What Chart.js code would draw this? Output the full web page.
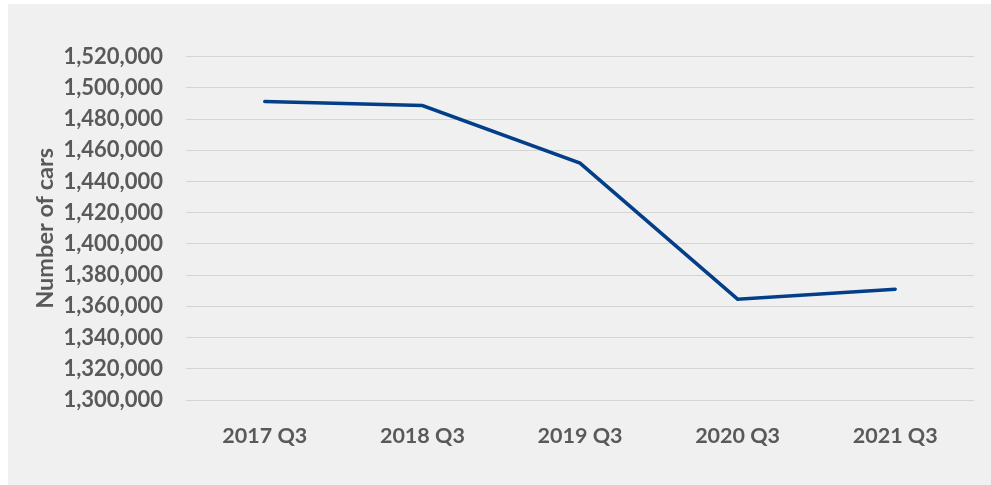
<!DOCTYPE html>
<html>
<head>
<meta charset="utf-8">
<script src="https://cdn.jsdelivr.net/npm/chart.js@4"></script>
<style>
  html, body { margin: 0; padding: 0; background: #ffffff; }
  #panel { position: absolute; left: 8px; top: 4px; width: 983px; height: 481px; background: #f0f0f0; }
  #c { display: block; }
</style>
</head>
<body>
<div id="panel"><canvas id="c" width="983" height="481"></canvas></div>
<script>
const categories = ['2017 Q3', '2018 Q3', '2019 Q3', '2020 Q3', '2021 Q3'];
const carValues = [1491300, 1488700, 1451800, 1364600, 1371000];
const yMin = 1300000;
const yMax = 1520000;
const yStep = 20000;
const yTitle = 'Number of cars';

const textColor = '#595959';
const fontFamily = 'Lato, "Open Sans", sans-serif';

new Chart(document.getElementById('c'), {
  type: 'line',
  data: {
    labels: categories,
    datasets: [{
      data: carValues,
      borderColor: '#023f88',
      borderWidth: 3.5,
      pointRadius: 0,
      pointHoverRadius: 0,
      borderCapStyle: 'round',
      borderJoinStyle: 'miter',
      tension: 0,
      fill: false
    }]
  },
  options: {
    responsive: false,
    animation: false,
    events: [],
    layout: { padding: { left: 0, right: 17, top: 52.7, bottom: 0 } },
    plugins: { legend: { display: false }, tooltip: { enabled: false } },
    scales: {
      x: {
        offset: true,
        grid: { display: false, drawTicks: false },
        border: { display: false },
        ticks: { color: textColor, font: { family: fontFamily, size: 21.5, weight: 'bold' }, padding: 23, maxRotation: 0 },
        afterFit: (s) => { s.height = 85; }
      },
      y: {
        min: yMin,
        max: yMax,
        grid: { color: '#d4d4d4', lineWidth: 1, drawTicks: false },
        border: { display: false },
        ticks: {
          stepSize: yStep,
          color: textColor,
          font: { family: fontFamily, size: 22, weight: 'bold' },
          padding: 23,
          callback: (v) => Number(v).toLocaleString('en-US')
        },
        title: {
          display: true,
          text: yTitle,
          color: textColor,
          font: { family: fontFamily, size: 23.5, weight: 'bold' },
          padding: { top: 23, bottom: 0 }
        },
        afterFit: (s) => { s.width = 178; }
      }
    }
  }
});
</script>
</body>
</html>
